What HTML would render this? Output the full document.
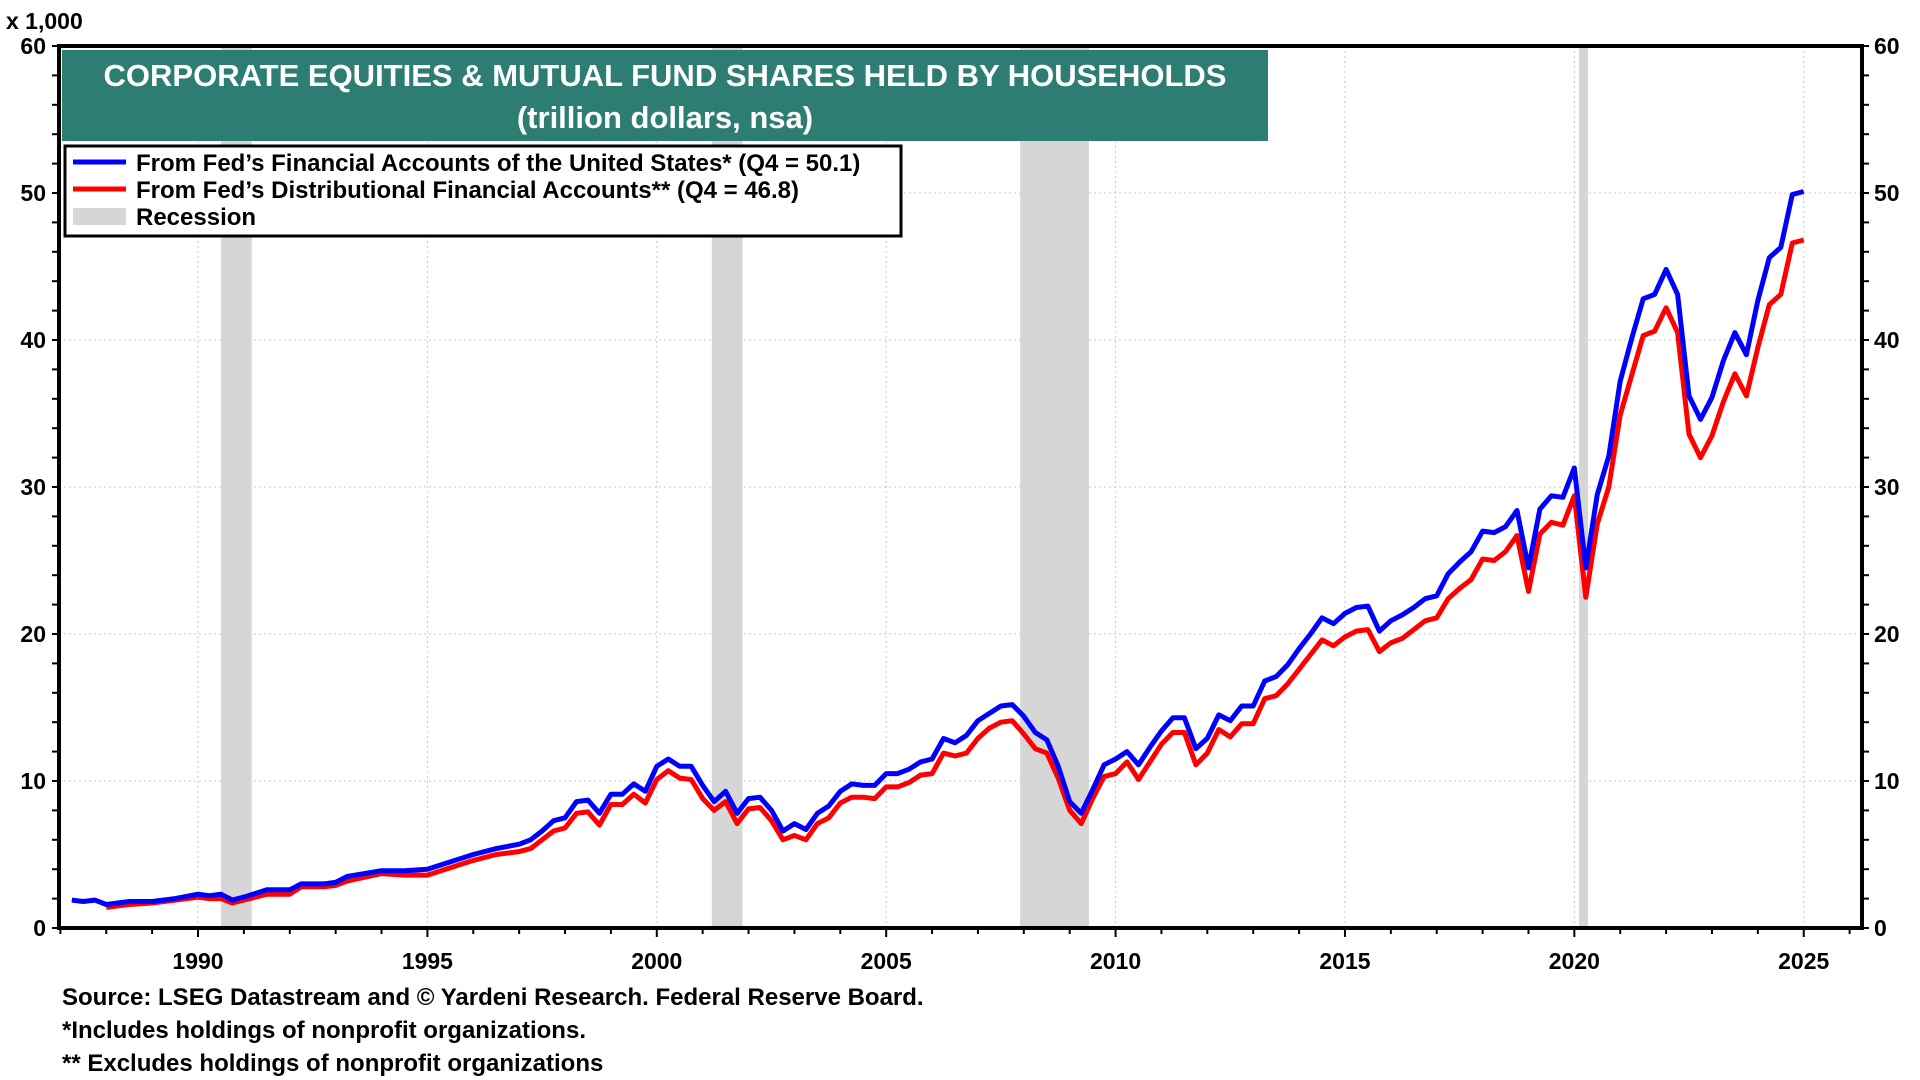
<!DOCTYPE html>
<html><head><meta charset="utf-8"><style>
html,body{margin:0;padding:0;background:#fff;width:1920px;height:1080px;overflow:hidden;font-family:"Liberation Sans",Arial,sans-serif}
svg text{font-family:"Liberation Sans",Arial,sans-serif;font-weight:bold}
</style></head><body>
<svg id="chart" width="1920" height="1080" xmlns="http://www.w3.org/2000/svg">
<g id="grid"></g>
<g id="rec"></g>
<g id="series"></g>
<rect x="59" y="46" width="1803" height="882" fill="none" stroke="#000" stroke-width="4"/>
<g id="axes"></g>
<text x="6" y="29" font-size="23">x 1,000</text>
<rect x="62" y="50" width="1206" height="91" fill="#2e7d72"/>
<text x="665" y="86" font-size="31" fill="#fff" text-anchor="middle">CORPORATE EQUITIES &amp; MUTUAL FUND SHARES HELD BY HOUSEHOLDS</text>
<text x="665" y="128" font-size="31" fill="#fff" text-anchor="middle">(trillion dollars, nsa)</text>
<g>
<rect x="65" y="146" width="836" height="90" fill="#fff" stroke="#000" stroke-width="3"/>
<line x1="73" y1="162" x2="126" y2="162" stroke="#0000ff" stroke-width="5"/>
<text x="136" y="171" font-size="24">From Fed’s Financial Accounts of the United States* (Q4 = 50.1)</text>
<line x1="73" y1="189" x2="126" y2="189" stroke="#ff0000" stroke-width="5"/>
<text x="136" y="198" font-size="24">From Fed’s Distributional Financial Accounts** (Q4 = 46.8)</text>
<rect x="73" y="208" width="53" height="17" fill="#d6d6d6"/>
<text x="136" y="225" font-size="24">Recession</text>
</g>
<text x="62" y="1005" font-size="24">Source: LSEG Datastream and © Yardeni Research. Federal Reserve Board.</text>
<text x="62" y="1038" font-size="24">*Includes holdings of nonprofit organizations.</text>
<text x="62" y="1071" font-size="24">** Excludes holdings of nonprofit organizations</text>
</svg>
<script>
const dates=[1987.25,1987.5,1987.75,1988,1988.5,1989,1989.5,1990,1990.25,1990.5,1990.75,1991,1991.5,1992,1992.25,1992.75,1993,1993.25,1994,1994.5,1995,1995.5,1996,1996.5,1997,1997.25,1997.5,1997.75,1998,1998.25,1998.5,1998.75,1999,1999.25,1999.5,1999.75,2000,2000.25,2000.5,2000.75,2001,2001.25,2001.5,2001.75,2002,2002.25,2002.5,2002.75,2003,2003.25,2003.5,2003.75,2004,2004.25,2004.5,2004.75,2005,2005.25,2005.5,2005.75,2006,2006.25,2006.5,2006.75,2007,2007.25,2007.5,2007.75,2008,2008.25,2008.5,2008.75,2009,2009.25,2009.5,2009.75,2010,2010.25,2010.5,2010.75,2011,2011.25,2011.5,2011.75,2012,2012.25,2012.5,2012.75,2013,2013.25,2013.5,2013.75,2014,2014.25,2014.5,2014.75,2015,2015.25,2015.5,2015.75,2016,2016.25,2016.5,2016.75,2017,2017.25,2017.5,2017.75,2018,2018.25,2018.5,2018.75,2019,2019.25,2019.5,2019.75,2020,2020.25,2020.5,2020.75,2021,2021.25,2021.5,2021.75,2022,2022.25,2022.5,2022.75,2023,2023.25,2023.5,2023.75,2024,2024.25,2024.5,2024.75,2025];
const blueValues=[1.9,1.8,1.9,1.6,1.8,1.8,2.0,2.3,2.2,2.3,1.9,2.1,2.6,2.6,3.0,3.0,3.1,3.5,3.9,3.9,4.0,4.5,5.0,5.4,5.7,6.0,6.6,7.3,7.5,8.6,8.7,7.8,9.1,9.1,9.8,9.3,11.0,11.5,11.0,11.0,9.7,8.6,9.3,7.8,8.8,8.9,8.0,6.6,7.1,6.7,7.8,8.3,9.3,9.8,9.7,9.7,10.5,10.5,10.8,11.3,11.5,12.9,12.6,13.1,14.1,14.6,15.1,15.2,14.4,13.3,12.8,11.0,8.6,7.8,9.4,11.1,11.5,12.0,11.1,12.3,13.4,14.3,14.3,12.2,12.9,14.5,14.1,15.1,15.1,16.8,17.1,17.9,19.0,20.0,21.1,20.7,21.4,21.8,21.9,20.2,20.9,21.3,21.8,22.4,22.6,24.1,24.9,25.6,27.0,26.9,27.3,28.4,24.5,28.5,29.4,29.3,31.3,24.5,29.5,32.1,37.2,40.1,42.8,43.1,44.8,43.1,36.2,34.6,36.1,38.6,40.5,39.0,42.7,45.6,46.3,49.9,50.1];
const redValues=[null,null,null,1.4,1.6,1.7,1.9,2.1,2.0,2.0,1.7,1.9,2.3,2.3,2.8,2.8,2.9,3.2,3.7,3.6,3.6,4.1,4.6,5.0,5.2,5.4,6.0,6.6,6.8,7.8,7.9,7.0,8.4,8.4,9.1,8.5,10.1,10.7,10.2,10.1,8.8,8.0,8.6,7.1,8.1,8.2,7.3,6.0,6.3,6.0,7.1,7.5,8.5,8.9,8.9,8.8,9.6,9.6,9.9,10.4,10.5,11.9,11.7,11.9,12.9,13.6,14.0,14.1,13.2,12.2,11.9,10.2,8.0,7.1,8.8,10.3,10.5,11.3,10.1,11.3,12.5,13.3,13.3,11.1,11.9,13.5,13.0,13.9,13.9,15.6,15.8,16.6,17.6,18.6,19.6,19.2,19.8,20.2,20.3,18.8,19.4,19.7,20.3,20.9,21.1,22.4,23.1,23.7,25.1,25.0,25.6,26.7,22.9,26.8,27.6,27.4,29.4,22.5,27.5,30.0,34.9,37.6,40.3,40.6,42.2,40.5,33.6,32.0,33.5,35.8,37.7,36.2,39.5,42.4,43.1,46.6,46.8];
const recStarts=[1990.5,2001.2,2007.92,2020.1];
const recEnds=[1991.17,2001.87,2009.42,2020.3];
const yTicks=[0,10,20,30,40,50,60];
const xTickLabels=[1990,1995,2000,2005,2010,2015,2020,2025];

const NS='http://www.w3.org/2000/svg';
const X0=59,X1=1862,Y0=928,Y1=46,YMIN=1986.97,YMAX=2026.27;
function xs(t){return X0+(t-YMIN)/(YMAX-YMIN)*(X1-X0);}
function ys(v){return Y0-v/60*(Y0-Y1);}
function mk(tag,attrs,parent){const e=document.createElementNS(NS,tag);for(const k in attrs)e.setAttribute(k,attrs[k]);parent.appendChild(e);return e;}
const grid=document.getElementById('grid'),axes=document.getElementById('axes'),rec=document.getElementById('rec'),ser=document.getElementById('series');
yTicks.forEach(v=>{
 if(v>0&&v<60){const g=mk('line',{x1:X0,x2:X1,y1:ys(v),y2:ys(v),stroke:'#c8c8c8','stroke-width':1,'stroke-dasharray':'2,3'},grid);
 
 }
 const l=mk('text',{x:46,y:ys(v)+8,'font-size':23,'text-anchor':'end'},axes);l.textContent=v;
 
 
 const r=mk('text',{x:1874,y:ys(v)+8,'font-size':23},axes);r.textContent=v;
 
 
});
for(let v=0;v<=60;v+=2){mk('line',{x1:X0-7,x2:X0,y1:ys(v),y2:ys(v),stroke:'#000','stroke-width':2},axes);mk('line',{x1:X1,x2:X1+7,y1:ys(v),y2:ys(v),stroke:'#000','stroke-width':2},axes);}
for(let yr=1987;yr<=2026;yr++){const major=yr%5===0;mk('line',{x1:xs(yr),x2:xs(yr),y1:Y0,y2:Y0+(major?9:6),stroke:'#000','stroke-width':2},axes);}
xTickLabels.forEach(yr=>{
 const g=mk('line',{x1:xs(yr),x2:xs(yr),y1:Y1,y2:Y0,stroke:'#c8c8c8','stroke-width':1,'stroke-dasharray':'2,3'},grid);
 
 
 const t=mk('text',{x:xs(yr),y:969,'font-size':23,'text-anchor':'middle'},axes);t.textContent=yr;
 
 
});
recStarts.forEach((s,i)=>{
 const r=mk('rect',{x:xs(s),y:Y1,width:xs(recEnds[i])-xs(s),height:Y0-Y1,fill:'#d6d6d6'},rec);
 
 
});
function path(vals){let d='';vals.forEach((v,i)=>{if(v==null)return;d+=(d?'L':'M')+xs(dates[i]).toFixed(1)+','+ys(v).toFixed(1);});return d;}
const pr=mk('path',{d:path(redValues),fill:'none',stroke:'#ff0000','stroke-width':5,'stroke-linejoin':'round'},ser);


const pb=mk('path',{d:path(blueValues),fill:'none',stroke:'#0000ff','stroke-width':5,'stroke-linejoin':'round'},ser);


</script>
</body></html>
